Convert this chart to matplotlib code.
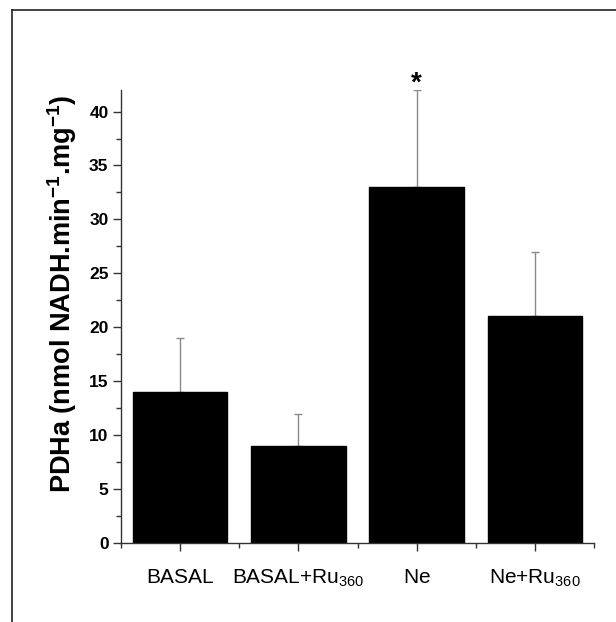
import matplotlib
matplotlib.use("Agg")
import matplotlib.pyplot as plt
from matplotlib.lines import Line2D
from matplotlib.ticker import MultipleLocator, FixedLocator

categories = [r"$\mathregular{BASAL}$", r"$\mathregular{BASAL{+}Ru_{360}}$",
              r"$\mathregular{Ne}$", r"$\mathregular{Ne{+}Ru_{360}}$"]
values = [14, 9, 33, 21]
errors = [5, 3, 9, 6]
star_labels = ["", "", "*", ""]

plt.rcParams['font.family'] = ['Liberation Sans', 'DejaVu Sans']
plt.rcParams['mathtext.fontset'] = 'custom'
plt.rcParams['mathtext.rm'] = 'Liberation Sans'
plt.rcParams['mathtext.bf'] = 'Liberation Sans:bold'

fig = plt.figure(figsize=(6.16, 6.22), dpi=100)
ax = fig.add_axes([121/616, (622-543)/622, (594-121)/616, (543-90)/622])

pos = list(range(1, len(values) + 1))
ax.bar(pos, values, width=0.8, color='black', edgecolor='black', zorder=2)
ax.errorbar(pos, values, yerr=[[0]*len(errors), errors], fmt='none',
            ecolor='#8a8a8a', elinewidth=1.0, capsize=3, capthick=1.0, zorder=1)

for p, v, e, s in zip(pos, values, errors, star_labels):
    if s:
        ax.text(p, v + e - 0.1, s, ha='center', va='baseline', fontsize=20,
                fontweight='bold', clip_on=False)

ax.set_xlim(0.5, 4.5)
ax.set_ylim(0, 42)
ax.set_xticks(pos)
ax.set_xticklabels(categories, fontsize=15)
ax.xaxis.set_minor_locator(FixedLocator([0.5, 1.5, 2.5, 3.5, 4.5]))
ax.yaxis.set_major_locator(MultipleLocator(5))
ax.yaxis.set_minor_locator(MultipleLocator(2.5))
for lab in ax.get_yticklabels():
    lab.set_fontweight('bold')
    lab.set_fontsize(12.5)

ax.tick_params(axis='both', which='major', direction='out', length=6, width=1, color='#333333')
ax.tick_params(axis='both', which='minor', direction='out', length=3.5, width=1, color='#333333')
ax.tick_params(axis='x', which='major', pad=12)
ax.tick_params(axis='y', which='major', pad=3)

for s in ['top', 'right']:
    ax.spines[s].set_visible(False)
for s in ['left', 'bottom']:
    ax.spines[s].set_linewidth(1.0)
    ax.spines[s].set_color('#333333')

ax.set_ylabel(r"PDHa (nmol NADH.min$^{\mathregular{-1}}$.mg$^{\mathregular{-1}}$)",
              fontsize=19.5, fontweight='bold')
ax.yaxis.set_label_coords(-0.088, 0.55)

# outer frame (top and left visible)
fig.add_artist(Line2D([12/616, 12/616], [0, 1 - 10/622], transform=fig.transFigure,
                      color='#222222', linewidth=1.2))
fig.add_artist(Line2D([12/616, 1], [1 - 10/622, 1 - 10/622], transform=fig.transFigure,
                      color='#222222', linewidth=1.2))

fig.savefig("out.png", dpi=100)
